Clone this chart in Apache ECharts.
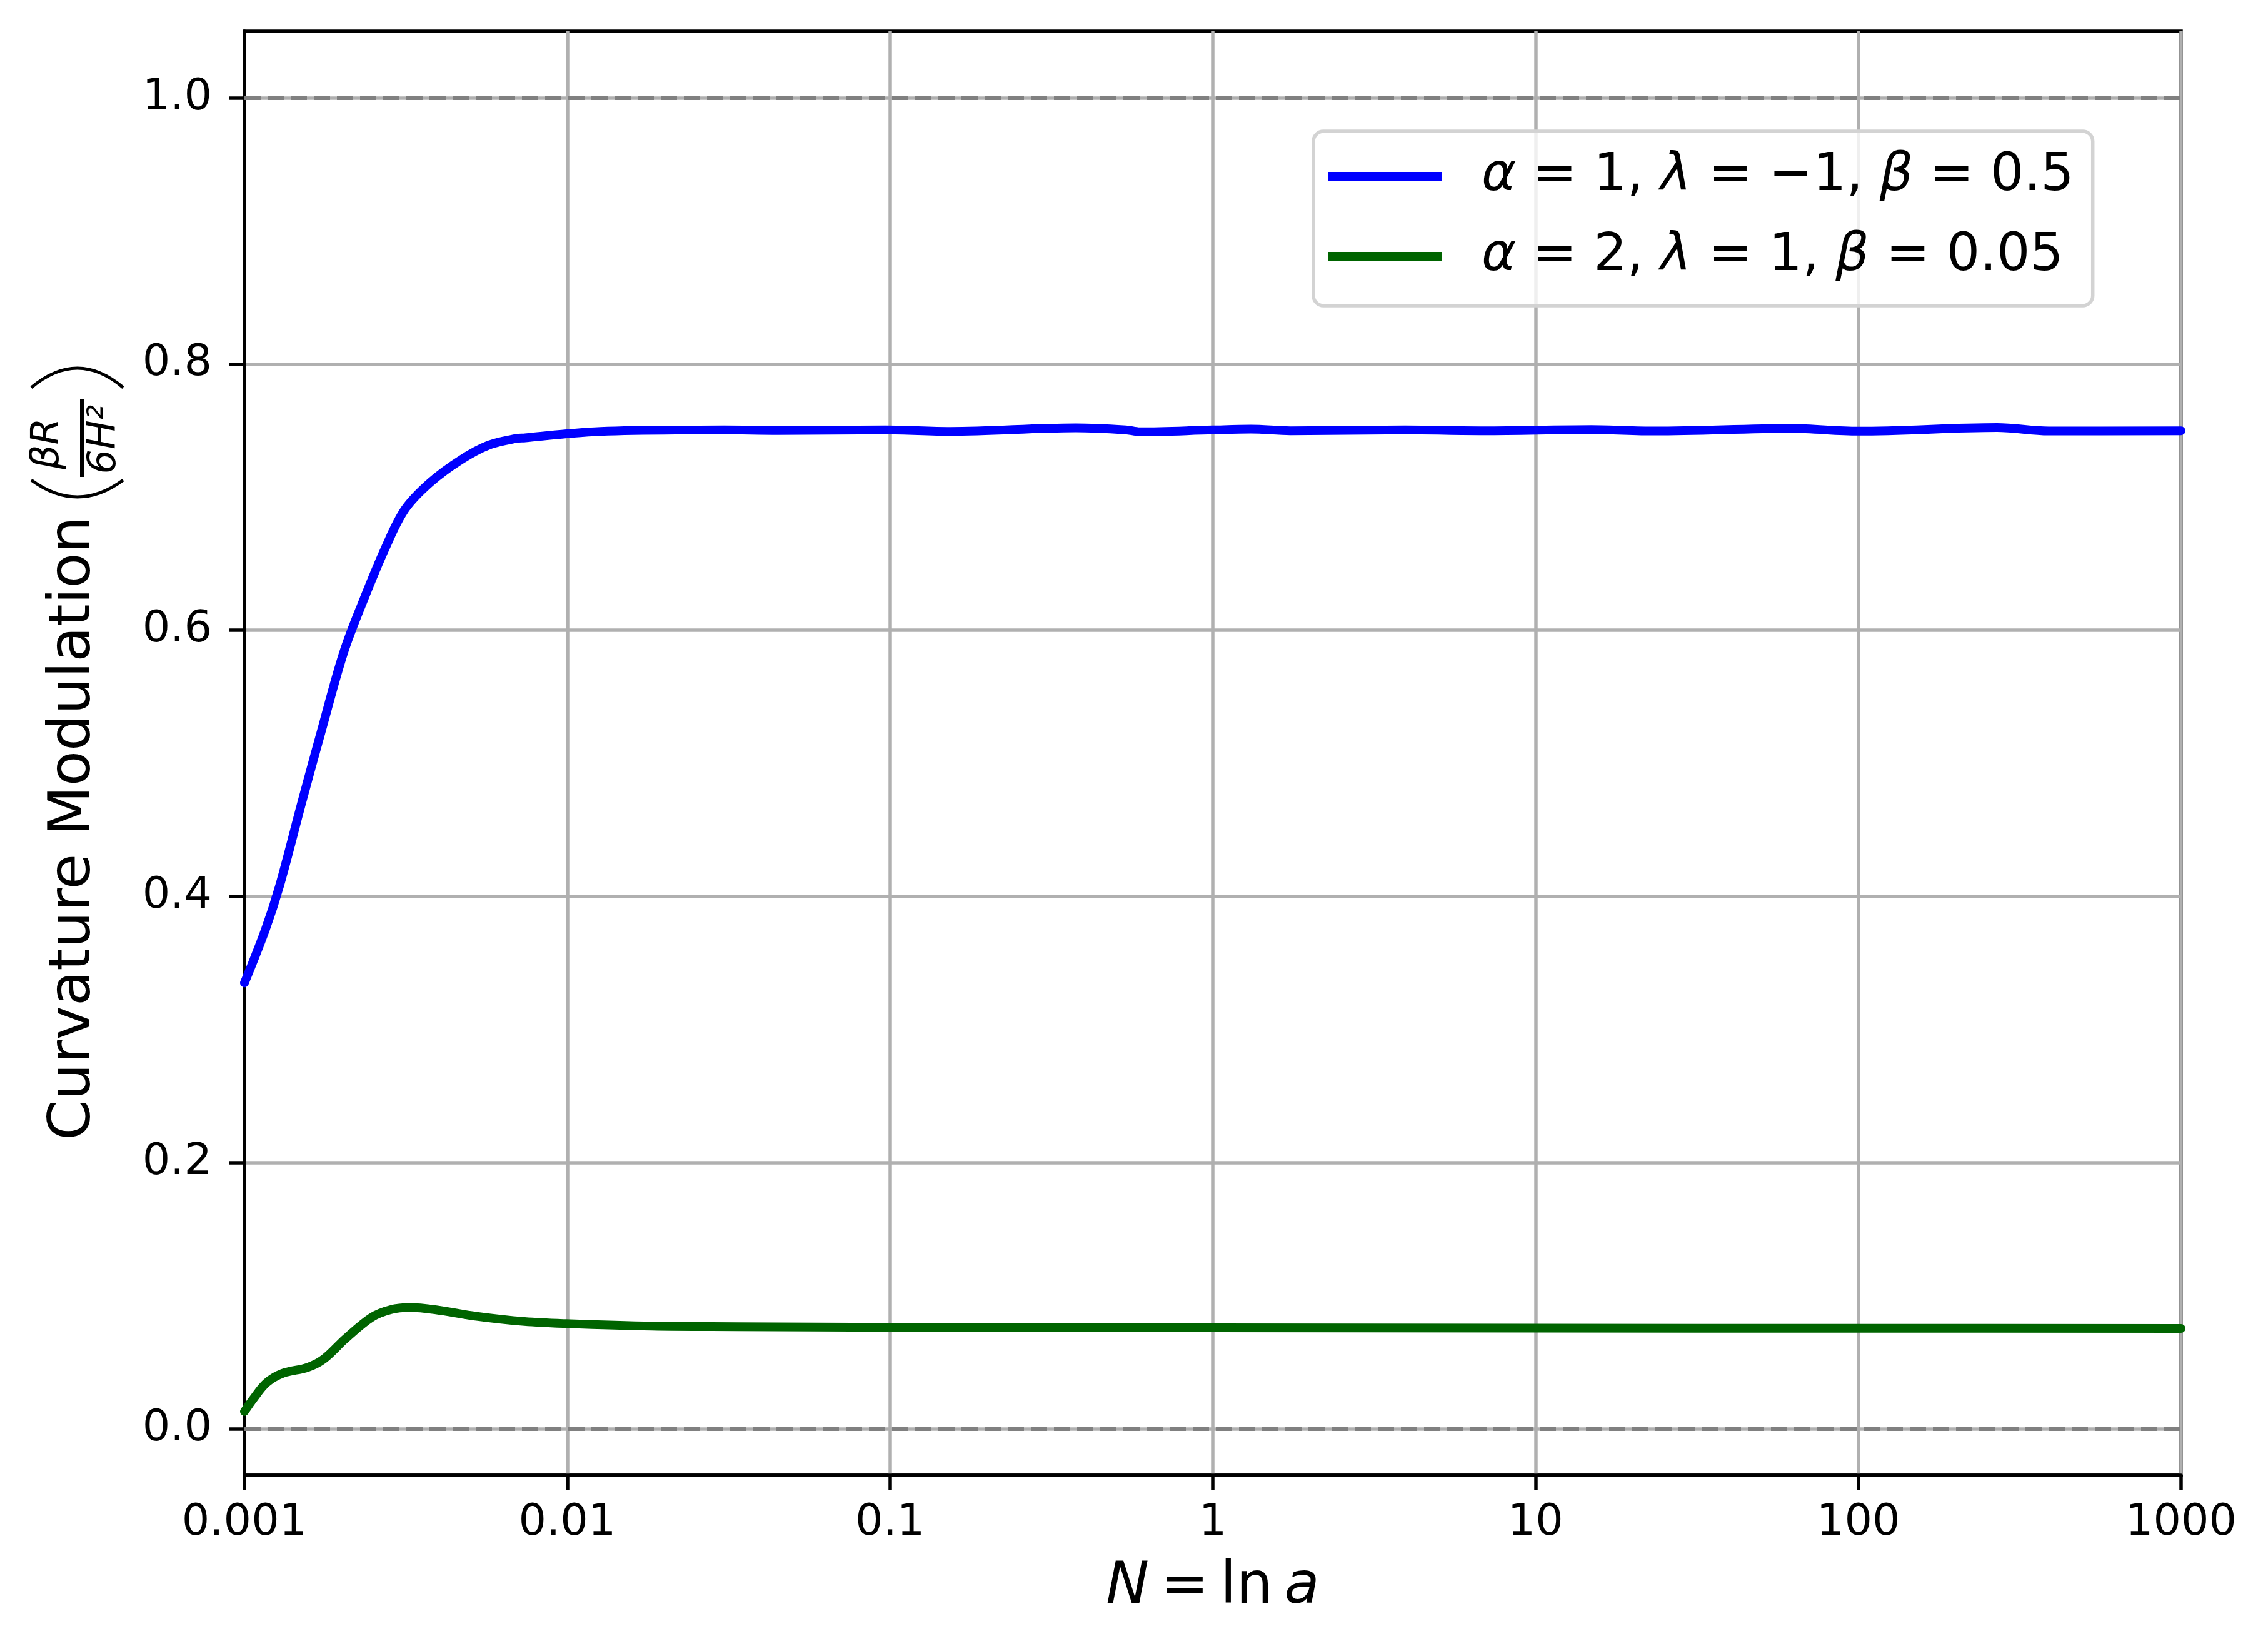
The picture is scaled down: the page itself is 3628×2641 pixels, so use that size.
<!DOCTYPE html>
<html>
<head>
<meta charset="utf-8">
<script src="https://cdn.jsdelivr.net/npm/echarts@6/dist/echarts.min.js"></script>
<style>
html,body{margin:0;padding:0;background:#fff;}
#chart{width:3628px;height:2641px;}
</style>
</head>
<body>
<div id="chart"></div>
<script>
// ---- data ----
const xTickLabels = ['0.001', '0.01', '0.1', '1', '10', '100', '1000'];
const yTickValues = [0, 0.2, 0.4, 0.6, 0.8, 1.0];
const yTickLabels = ['0.0', '0.2', '0.4', '0.6', '0.8', '1.0'];
const referenceLines = [0, 1];
const seriesNames = ['α = 1, λ = −1, β = 0.5', 'α = 2, λ = 1, β = 0.05'];

const blueN = [0.001, 0.001161, 0.001285, 0.001507, 0.00173, 0.002028, 0.002333, 0.002735, 0.003148,
  0.003767, 0.004688, 0.005715, 0.006966, 0.007413, 0.009954, 0.01268, 0.02163, 0.03062, 0.04487,
  0.09705, 0.1538, 0.3767, 0.537, 0.5943, 1, 1.312, 1.738, 3.945, 6.918, 14.89, 23.44, 62.09, 100,
  269.2, 389.0, 1000];
const blueY = [0.335, 0.375, 0.408, 0.471, 0.524, 0.583, 0.622, 0.662, 0.691,
  0.711, 0.728, 0.739, 0.744, 0.7445, 0.7475, 0.7493, 0.7503, 0.7504, 0.7500,
  0.7504, 0.7493, 0.7520, 0.7505, 0.7490, 0.7504, 0.7510, 0.7498, 0.7504, 0.7498, 0.7507, 0.7496, 0.7515, 0.7495,
  0.7522, 0.7496, 0.7498];

const greenN = [0.001, 0.001067, 0.001169, 0.001309, 0.00157, 0.001762, 0.002065, 0.002477, 0.002838,
  0.003251, 0.003899, 0.005248, 0.007379, 0.009931, 0.01832, 0.03388, 0.1, 1, 10, 100, 1000];
const greenY = [0.013, 0.0227, 0.0344, 0.0415, 0.0461, 0.0524, 0.0681, 0.0837, 0.0895,
  0.0911, 0.0895, 0.0845, 0.0806, 0.079, 0.0771, 0.0767, 0.0762, 0.0758, 0.0756, 0.0755, 0.0754];

// ---- chart ----
const FONT = 'DejaVu Sans';
const chart = echarts.init(document.getElementById('chart'), null, {renderer: 'canvas'});
const pairs = (xs, ys) => xs.map((x, i) => [x, ys[i]]);
const axisLineStyle = {color: '#000', width: 5.5};
const gridLineStyle = {color: '#b0b0b0', width: 5.5};

const option = {
  animation: false,
  backgroundColor: '#fff',
  grid: {left: 391, right: 139, top: 50, bottom: 281, show: true, borderColor: '#000', borderWidth: 5.5, backgroundColor: 'transparent'},
  legend: {
    orient: 'vertical',
    left: 2101, top: 210,
    padding: [22, 30, 29, 24],
    itemWidth: 182, itemHeight: 14, itemGap: 28,
    icon: 'rect',
    backgroundColor: 'rgba(255,255,255,0.8)',
    borderColor: '#d3d3d3', borderWidth: 5.5, borderRadius: 16,
    data: seriesNames,
    formatter: n => n.replace(/([αλβ])/g, '{i|$1}'),
    textStyle: {
      fontFamily: FONT, fontSize: 84, color: '#000', lineHeight: 100, padding: [0, 0, 0, 58],
      rich: {i: {fontFamily: FONT, fontSize: 84, fontStyle: 'italic', color: '#000', lineHeight: 100}}
    }
  },
  xAxis: {
    type: 'log', logBase: 10, min: 0.001, max: 1000, splitNumber: 6,
    axisLine: {show: true, onZero: false, lineStyle: axisLineStyle},
    axisTick: {show: true, inside: false, length: 24, lineStyle: axisLineStyle},
    axisLabel: {
      margin: 42, fontSize: 70, color: '#000', fontFamily: FONT,
      formatter: v => xTickLabels[Math.round(Math.log10(v)) + 3]
    },
    splitLine: {show: true, lineStyle: gridLineStyle},
    minorTick: {show: false},
    name: '{i|N}\u2009=\u2009ln\u2009{i|a}',
    nameLocation: 'middle', nameGap: 130,
    nameTextStyle: {
      fontFamily: FONT, fontSize: 92, color: '#000', lineHeight: 100,
      rich: {i: {fontFamily: FONT, fontSize: 92, fontStyle: 'italic', color: '#000', lineHeight: 100}}
    }
  },
  yAxis: {
    type: 'value', min: -0.035, max: 1.05,
    axisLine: {show: true, onZero: false, lineStyle: axisLineStyle},
    axisTick: {show: true, inside: false, length: 24, lineStyle: axisLineStyle, customValues: yTickValues},
    axisLabel: {
      margin: 52, fontSize: 70, color: '#000', fontFamily: FONT, customValues: yTickValues,
      formatter: v => {
        const i = yTickValues.findIndex(t => Math.abs(t - v) < 1e-9);
        return i >= 0 ? yTickLabels[i] : '';
      }
    },
    splitLine: {show: true, lineStyle: gridLineStyle}
  },
  series: [
    {
      name: seriesNames[0], type: 'line', data: pairs(blueN, blueY),
      showSymbol: false, symbol: 'none', smooth: 0.35,
      lineStyle: {color: '#0000ff', width: 14, cap: 'round', join: 'round'},
      itemStyle: {color: '#0000ff'},
      markLine: {
        silent: true, symbol: 'none', label: {show: false},
        lineStyle: {color: '#808080', width: 7, type: [26, 11]},
        data: referenceLines.map(v => ({yAxis: v}))
      },
      z: 3
    },
    {
      name: seriesNames[1], type: 'line', data: pairs(greenN, greenY),
      showSymbol: false, symbol: 'none', smooth: 0.35,
      lineStyle: {color: '#006400', width: 14, cap: 'round', join: 'round'},
      itemStyle: {color: '#006400'},
      z: 3
    }
  ],
  graphic: [
    {type: 'text', x: 119, y: 1325, rotation: Math.PI / 2,
      style: {text: 'Curvature Modulation', fontFamily: FONT, fontSize: 92, fill: '#000', align: 'center', verticalAlign: 'middle'}},
    {type: 'text', x: 77, y: 710, rotation: Math.PI / 2,
      style: {text: 'βR', fontFamily: FONT, fontSize: 62, fontStyle: 'italic', fill: '#000', align: 'center', verticalAlign: 'middle'}},
    {type: 'text', x: 168, y: 703, rotation: Math.PI / 2,
      style: {text: '6H²', fontFamily: FONT, fontSize: 62, fontStyle: 'italic', fill: '#000', align: 'center', verticalAlign: 'middle'}},
    {type: 'line', shape: {x1: 131, y1: 638, x2: 131, y2: 763}, style: {stroke: '#000', lineWidth: 6}},
    {type: 'bezierCurve', shape: {x1: 50, y1: 620, x2: 197, y2: 620, cpx1: 124, cpy1: 558}, style: {stroke: '#000', lineWidth: 5, fill: null}},
    {type: 'bezierCurve', shape: {x1: 50, y1: 768, x2: 197, y2: 768, cpx1: 124, cpy1: 822}, style: {stroke: '#000', lineWidth: 5, fill: null}}
  ]
};
chart.setOption(option);
</script>
</body>
</html>
